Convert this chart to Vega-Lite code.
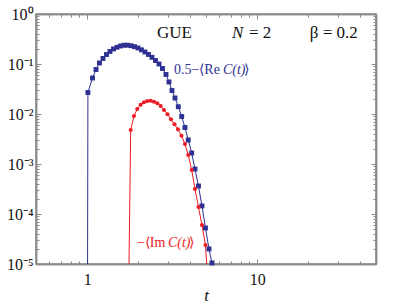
{
  "$schema": "https://vega.github.io/schema/vega-lite/v6.json",
  "width": 340,
  "height": 250,
  "autosize": {"type": "none"},
  "padding": {"left": 36, "top": 14, "right": 39, "bottom": 39},
  "background": "white",
  "config": {
    "view": {"stroke": "#8a8a8a", "strokeWidth": 1.5},
    "axis": {"grid": false, "domainColor": "#8a8a8a", "tickColor": "#8a8a8a", "domainWidth": 1.5, "tickWidth": 1, "labelFont": "Liberation Serif", "labelFontSize": 16, "labelColor": "#111111", "titleFont": "Liberation Serif", "titleColor": "#111111"}
  },
  "datasets": {
    "curves": [
      {"series": "re", "t": 1.0, "v": 1e-9},
      {"series": "re", "t": 1.01, "v": 0.0269},
      {"series": "re", "t": 1.075, "v": 0.0525},
      {"series": "re", "t": 1.127, "v": 0.0776},
      {"series": "re", "t": 1.181, "v": 0.105},
      {"series": "re", "t": 1.239, "v": 0.129},
      {"series": "re", "t": 1.299, "v": 0.155},
      {"series": "re", "t": 1.362, "v": 0.178},
      {"series": "re", "t": 1.428, "v": 0.2},
      {"series": "re", "t": 1.497, "v": 0.216},
      {"series": "re", "t": 1.57, "v": 0.229},
      {"series": "re", "t": 1.646, "v": 0.237},
      {"series": "re", "t": 1.726, "v": 0.238},
      {"series": "re", "t": 1.81, "v": 0.232},
      {"series": "re", "t": 1.898, "v": 0.222},
      {"series": "re", "t": 1.99, "v": 0.209},
      {"series": "re", "t": 2.086, "v": 0.192},
      {"series": "re", "t": 2.188, "v": 0.174},
      {"series": "re", "t": 2.294, "v": 0.155},
      {"series": "re", "t": 2.406, "v": 0.136},
      {"series": "re", "t": 2.522, "v": 0.1175},
      {"series": "re", "t": 2.645, "v": 0.1},
      {"series": "re", "t": 2.773, "v": 0.0813},
      {"series": "re", "t": 2.908, "v": 0.0617},
      {"series": "re", "t": 3.028, "v": 0.0437},
      {"series": "re", "t": 3.154, "v": 0.0295},
      {"series": "re", "t": 3.285, "v": 0.0209},
      {"series": "re", "t": 3.435, "v": 0.014},
      {"series": "re", "t": 3.597, "v": 0.00891},
      {"series": "re", "t": 3.761, "v": 0.00537},
      {"series": "re", "t": 3.932, "v": 0.00302},
      {"series": "re", "t": 4.119, "v": 0.00166},
      {"series": "re", "t": 4.307, "v": 0.000794},
      {"series": "re", "t": 4.516, "v": 0.000363},
      {"series": "re", "t": 4.734, "v": 0.000145},
      {"series": "re", "t": 4.965, "v": 0.0000525},
      {"series": "re", "t": 5.206, "v": 0.00002},
      {"series": "re", "t": 5.422, "v": 0.0000105},
      {"series": "im", "t": 1.703, "v": 1e-9},
      {"series": "im", "t": 1.803, "v": 0.00479},
      {"series": "im", "t": 1.885, "v": 0.00912},
      {"series": "im", "t": 1.97, "v": 0.0126},
      {"series": "im", "t": 2.064, "v": 0.01535},
      {"series": "im", "t": 2.159, "v": 0.01714},
      {"series": "im", "t": 2.257, "v": 0.0182},
      {"series": "im", "t": 2.363, "v": 0.01845},
      {"series": "im", "t": 2.471, "v": 0.0176},
      {"series": "im", "t": 2.585, "v": 0.01637},
      {"series": "im", "t": 2.706, "v": 0.01445},
      {"series": "im", "t": 2.83, "v": 0.012},
      {"series": "im", "t": 2.968, "v": 0.00986},
      {"series": "im", "t": 3.111, "v": 0.00783},
      {"series": "im", "t": 3.262, "v": 0.00622},
      {"series": "im", "t": 3.42, "v": 0.00494},
      {"series": "im", "t": 3.587, "v": 0.00368},
      {"series": "im", "t": 3.761, "v": 0.00251},
      {"series": "im", "t": 3.932, "v": 0.00151},
      {"series": "im", "t": 4.119, "v": 0.000759},
      {"series": "im", "t": 4.307, "v": 0.000316},
      {"series": "im", "t": 4.516, "v": 0.000138},
      {"series": "im", "t": 4.734, "v": 0.0000603},
      {"series": "im", "t": 4.965, "v": 0.000024},
      {"series": "im", "t": 5.17, "v": 0.000003}
    ],
    "titles_roman": [
      {"label": "GUE", "t": 2.574, "v": 0.411},
      {"label": "= 2", "t": 8.95, "v": 0.411},
      {"label": "β = 0.2", "t": 20.4, "v": 0.411}
    ],
    "titles_italic": [
      {"label": "N", "t": 7.11, "v": 0.411}
    ],
    "series_roman": [
      {"series": "re", "label": "0.5−⟨Re", "t": 3.24, "v": 0.0759},
      {"series": "re", "label": "⟩", "t": 8.36, "v": 0.0759},
      {"series": "im", "label": "−⟨Im", "t": 1.963, "v": 0.0000263},
      {"series": "im", "label": "⟩", "t": 3.97, "v": 0.0000263}
    ],
    "series_italic": [
      {"series": "re", "label": "C(t)", "t": 6.29, "v": 0.0759},
      {"series": "im", "label": "C(t)", "t": 2.987, "v": 0.0000263}
    ]
  },
  "resolve": {"axis": {"x": "independent", "y": "independent"}},
  "layer": [
    {
      "data": {"name": "curves"},
      "mark": {"type": "line", "clip": true, "strokeWidth": 1},
      "encoding": {
        "x": {"field": "t", "type": "quantitative", "scale": {"type": "log", "domain": [0.5, 50], "nice": false},
          "axis": {"orient": "bottom", "values": [1, 10], "tickSize": -5, "labelPadding": 12, "labelFlush": false, "title": "t", "titleFontStyle": "italic", "titleFontWeight": "normal", "titleFontSize": 17, "titlePadding": 0}},
        "y": {"field": "v", "type": "quantitative", "scale": {"type": "log", "domain": [0.00001, 1], "nice": false},
          "axis": {"orient": "left", "values": [1, 0.1, 0.01, 0.001, 0.0001, 0.00001], "tickSize": -5, "labelPadding": 8, "labelFlush": false, "title": null,
            "labelExpr": "datum.value > 0.5 ? '10⁰' : datum.value > 0.05 ? '10⁻¹' : datum.value > 0.005 ? '10⁻²' : datum.value > 0.0005 ? '10⁻³' : datum.value > 0.00005 ? '10⁻⁴' : '10⁻⁵'"}},
        "color": {"field": "series", "type": "nominal", "scale": {"domain": ["re", "im"], "range": ["#2e3192", "#ec1c24"]}, "legend": null}
      }
    },
    {
      "data": {"name": "curves"},
      "transform": [{"filter": "datum.v >= 0.00001 && datum.series == 're'"}],
      "mark": {"type": "point", "filled": true, "opacity": 1, "shape": "square", "size": 24},
      "encoding": {
        "x": {"field": "t", "type": "quantitative", "scale": {"type": "log", "domain": [0.5, 50], "nice": false},
          "axis": {"orient": "bottom", "values": [0.5, 0.6, 0.7, 0.8, 0.9, 2, 3, 4, 5, 6, 7, 8, 9, 20, 30, 40, 50], "tickSize": -3, "labels": false, "title": null}},
        "y": {"field": "v", "type": "quantitative", "scale": {"type": "log", "domain": [0.00001, 1], "nice": false},
          "axis": {"orient": "left", "values": [0.00002, 0.00003, 0.00004, 0.00005, 0.00006, 0.00007, 0.00008, 0.00009, 0.0002, 0.0003, 0.0004, 0.0005, 0.0006, 0.0007, 0.0008, 0.0009, 0.002, 0.003, 0.004, 0.005, 0.006, 0.007, 0.008, 0.009, 0.02, 0.03, 0.04, 0.05, 0.06, 0.07, 0.08, 0.09, 0.2, 0.3, 0.4, 0.5, 0.6, 0.7, 0.8, 0.9], "tickSize": -3, "labels": false, "title": null}},
        "color": {"field": "series", "type": "nominal", "scale": {"domain": ["re", "im"], "range": ["#2e3192", "#ec1c24"]}, "legend": null}
      }
    },
    {
      "data": {"name": "curves"},
      "transform": [{"filter": "datum.v >= 0.00001 && datum.series == 'im'"}],
      "mark": {"type": "point", "filled": true, "opacity": 1, "shape": "circle", "size": 17},
      "encoding": {
        "x": {"field": "t", "type": "quantitative", "scale": {"type": "log", "domain": [0.5, 50], "nice": false}, "axis": null},
        "y": {"field": "v", "type": "quantitative", "scale": {"type": "log", "domain": [0.00001, 1], "nice": false}, "axis": null},
        "color": {"field": "series", "type": "nominal", "scale": {"domain": ["re", "im"], "range": ["#2e3192", "#ec1c24"]}, "legend": null}
      }
    },
    {
      "data": {"name": "titles_roman"},
      "mark": {"type": "text", "font": "Liberation Serif", "fontSize": 17, "color": "#111111", "align": "left", "baseline": "middle"},
      "encoding": {
        "x": {"field": "t", "type": "quantitative", "scale": {"type": "log", "domain": [0.5, 50], "nice": false},
          "axis": {"orient": "top", "values": [1, 10], "tickSize": -5, "labels": false, "title": null}},
        "y": {"field": "v", "type": "quantitative", "scale": {"type": "log", "domain": [0.00001, 1], "nice": false},
          "axis": {"orient": "right", "values": [1, 0.1, 0.01, 0.001, 0.0001, 0.00001], "tickSize": -5, "labels": false, "title": null}},
        "text": {"field": "label"}
      }
    },
    {
      "data": {"name": "titles_italic"},
      "mark": {"type": "text", "font": "Liberation Serif", "fontStyle": "italic", "fontSize": 17, "color": "#111111", "align": "left", "baseline": "middle"},
      "encoding": {
        "x": {"field": "t", "type": "quantitative", "scale": {"type": "log", "domain": [0.5, 50], "nice": false},
          "axis": {"orient": "top", "values": [0.5, 0.6, 0.7, 0.8, 0.9, 2, 3, 4, 5, 6, 7, 8, 9, 20, 30, 40, 50], "tickSize": -3, "labels": false, "title": null}},
        "y": {"field": "v", "type": "quantitative", "scale": {"type": "log", "domain": [0.00001, 1], "nice": false},
          "axis": {"orient": "right", "values": [0.00002, 0.00003, 0.00004, 0.00005, 0.00006, 0.00007, 0.00008, 0.00009, 0.0002, 0.0003, 0.0004, 0.0005, 0.0006, 0.0007, 0.0008, 0.0009, 0.002, 0.003, 0.004, 0.005, 0.006, 0.007, 0.008, 0.009, 0.02, 0.03, 0.04, 0.05, 0.06, 0.07, 0.08, 0.09, 0.2, 0.3, 0.4, 0.5, 0.6, 0.7, 0.8, 0.9], "tickSize": -3, "labels": false, "title": null}},
        "text": {"field": "label"}
      }
    },
    {
      "data": {"name": "series_roman"},
      "mark": {"type": "text", "font": "Liberation Serif", "fontSize": 14, "align": "left", "baseline": "middle"},
      "encoding": {
        "x": {"field": "t", "type": "quantitative", "scale": {"type": "log", "domain": [0.5, 50], "nice": false}, "axis": null},
        "y": {"field": "v", "type": "quantitative", "scale": {"type": "log", "domain": [0.00001, 1], "nice": false}, "axis": null},
        "color": {"field": "series", "type": "nominal", "scale": {"domain": ["re", "im"], "range": ["#2e3192", "#ec1c24"]}, "legend": null},
        "text": {"field": "label"}
      }
    },
    {
      "data": {"name": "series_italic"},
      "mark": {"type": "text", "font": "Liberation Serif", "fontStyle": "italic", "fontSize": 14, "align": "left", "baseline": "middle"},
      "encoding": {
        "x": {"field": "t", "type": "quantitative", "scale": {"type": "log", "domain": [0.5, 50], "nice": false}, "axis": null},
        "y": {"field": "v", "type": "quantitative", "scale": {"type": "log", "domain": [0.00001, 1], "nice": false}, "axis": null},
        "color": {"field": "series", "type": "nominal", "scale": {"domain": ["re", "im"], "range": ["#2e3192", "#ec1c24"]}, "legend": null},
        "text": {"field": "label"}
      }
    }
  ]
}
